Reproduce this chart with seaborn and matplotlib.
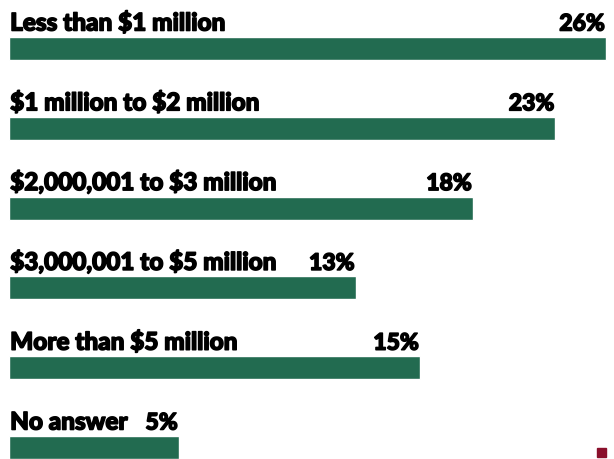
import matplotlib
matplotlib.use("Agg")
import matplotlib.pyplot as plt
import matplotlib.patches as mpatches
import matplotlib.patheffects as pe
import seaborn as sns
import pandas as pd

# categories and the shares printed on the chart
categories = ["Less than $1 million", "$1 million to $2 million", "$2,000,001 to $3 million",
              "$3,000,001 to $5 million", "More than $5 million", "No answer"]
share_labels = ["26%", "23%", "18%", "13%", "15%", "5%"]
# bar lengths as drawn in the picture (percent scale)
bar_lengths = [26.0, 23.8, 20.2, 15.1, 17.9, 7.4]

data = pd.DataFrame({"category": categories, "length": bar_lengths, "label": share_labels})

sns.set_style("white")
plt.rcParams["font.family"] = ["Lato", "DejaVu Sans"]
plt.rcParams["text.parse_math"] = False

fig = plt.figure(figsize=(6.14, 4.6), dpi=100)
ax = fig.add_axes([0, 0, 1, 1])

sns.barplot(data=data, x="length", y="category", orient="h", color="#226b50",
            width=0.29, saturation=1, ax=ax)

px = 22.96  # pixels per percent
ax.set_xlim(-9 / px, (614 - 9) / px)
ax.set_ylim(5 + 11.5 / 79.8, -49.5 / 79.8)

fat = [pe.withStroke(linewidth=1.1, foreground="black")]
for i, row in data.iterrows():
    ax.text(0.05, i - 0.225, row["category"], ha="left", va="baseline",
            fontsize=17.5, fontweight="black", color="black", path_effects=fat)
    ax.text(row["length"] - 0.05, i - 0.225, row["label"], ha="right", va="baseline",
            fontsize=16.5, fontweight="black", color="black", path_effects=fat)

ax.axis("off")

# small dark red marker at the bottom right
fig.patches.append(mpatches.Rectangle((597 / 614, 2 / 460), 9 / 614, 9 / 460,
                                      transform=fig.transFigure, color="#8a0f2b"))

fig.savefig("out.png", dpi=100)
